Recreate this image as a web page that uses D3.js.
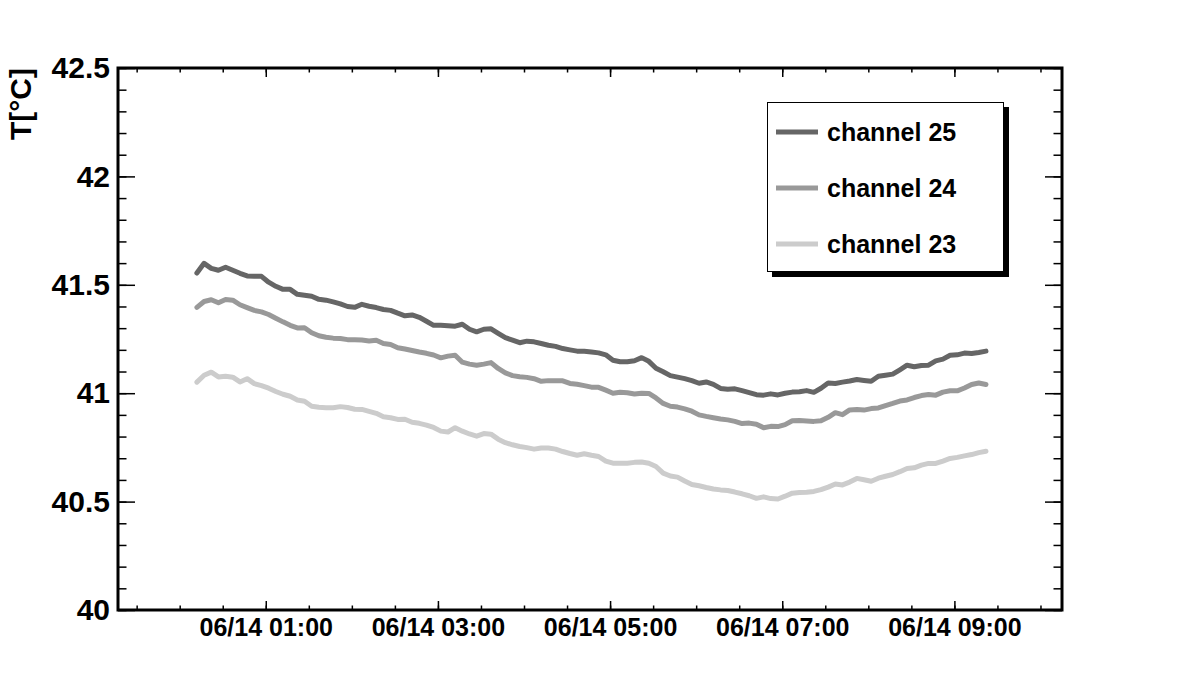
<!DOCTYPE html>
<html><head><meta charset="utf-8">
<script src="https://cdn.jsdelivr.net/npm/d3@7"></script>
<style>
body{margin:0;background:#fff}
svg{display:block}
text{font-family:"Liberation Sans",Arial,Helvetica,sans-serif;font-weight:bold;fill:#000}
</style>
</head><body>
<svg id="c" width="1182" height="680"></svg>
<script>
const seriesNames = ["channel 25", "channel 24", "channel 23"];
const seriesColors = ["#666666", "#999999", "#cccccc"];
const startTime = "2024-06-14T00:12";
const sampleMinutes = 5;
const ch25 = [
41.554,41.599,41.576,41.567,41.581,41.567,41.553,41.541,41.539,41.539,
41.512,41.493,41.479,41.479,41.456,41.452,41.447,41.433,41.429,41.421,
41.412,41.400,41.396,41.410,41.401,41.395,41.386,41.382,41.369,41.357,
41.361,41.350,41.332,41.313,41.313,41.311,41.309,41.318,41.295,41.283,
41.295,41.297,41.276,41.256,41.245,41.233,41.240,41.237,41.229,41.221,
41.216,41.206,41.200,41.194,41.193,41.190,41.186,41.177,41.152,41.145,
41.145,41.150,41.164,41.147,41.115,41.099,41.081,41.074,41.067,41.058,
41.046,41.052,41.041,41.022,41.018,41.020,41.012,41.003,40.993,40.991,
40.997,40.992,41.000,41.005,41.007,41.012,41.004,41.023,41.047,41.045,
41.051,41.056,41.063,41.059,41.055,41.078,41.083,41.088,41.108,41.129,
41.122,41.128,41.129,41.149,41.157,41.175,41.177,41.185,41.183,41.188,
41.194];
const ch24 = [
41.396,41.423,41.431,41.417,41.432,41.429,41.408,41.395,41.382,41.375,
41.363,41.346,41.329,41.313,41.301,41.302,41.279,41.265,41.258,41.254,
41.252,41.247,41.247,41.245,41.241,41.244,41.229,41.225,41.210,41.204,
41.197,41.190,41.184,41.176,41.163,41.171,41.175,41.143,41.134,41.129,
41.134,41.141,41.114,41.094,41.081,41.076,41.073,41.067,41.055,41.058,
41.057,41.057,41.045,41.041,41.035,41.028,41.027,41.014,41.000,41.004,
41.002,40.996,41.000,40.999,40.978,40.953,40.940,40.936,40.928,40.917,
40.900,40.893,40.887,40.881,40.877,40.870,40.860,40.862,40.857,40.841,
40.847,40.846,40.855,40.873,40.874,40.872,40.870,40.873,40.889,40.910,
40.901,40.923,40.925,40.922,40.929,40.932,40.943,40.953,40.964,40.969,
40.980,40.989,40.994,40.991,41.005,41.011,41.011,41.024,41.040,41.047,
41.040];
const ch23 = [
41.051,41.083,41.097,41.075,41.078,41.074,41.052,41.067,41.044,41.035,
41.023,41.008,40.995,40.986,40.969,40.963,40.940,40.935,40.933,40.933,
40.938,40.934,40.926,40.925,40.916,40.907,40.891,40.887,40.879,40.880,
40.866,40.861,40.853,40.842,40.825,40.821,40.841,40.825,40.812,40.802,
40.814,40.811,40.788,40.772,40.762,40.754,40.749,40.742,40.747,40.747,
40.742,40.731,40.722,40.714,40.721,40.714,40.708,40.687,40.677,40.677,
40.677,40.681,40.683,40.677,40.662,40.631,40.618,40.613,40.595,40.579,
40.573,40.565,40.558,40.554,40.551,40.544,40.536,40.527,40.515,40.522,
40.514,40.512,40.525,40.539,40.542,40.543,40.547,40.555,40.567,40.581,
40.577,40.590,40.607,40.601,40.594,40.608,40.617,40.625,40.638,40.653,
40.656,40.668,40.676,40.676,40.687,40.699,40.704,40.711,40.717,40.726,
40.732];
const yTicks = [40, 40.5, 41, 41.5, 42, 42.5];
const yTickLabels = ["40", "40.5", "41", "41.5", "42", "42.5"];
const xTickTimes = ["2024-06-14T01:00", "2024-06-14T03:00", "2024-06-14T05:00", "2024-06-14T07:00", "2024-06-14T09:00"];
const xDomainTimes = ["2024-06-13T23:17", "2024-06-14T10:15"];
const yDomain = [40, 42.5];
const yTitle = "T[°C]";

const parse = d3.utcParse("%Y-%m-%dT%H:%M");
const fmt = d3.utcFormat("%m/%d %H:%M");
const t0 = parse(startTime);
const series = [ch25, ch24, ch23];

const L = 118, R = 1062, T = 68, B = 610;
const svg = d3.select("#c");
const x = d3.scaleUtc().domain(xDomainTimes.map(parse)).range([L, R]);
const y = d3.scaleLinear().domain(yDomain).range([B, T]);

const majorX = xTickTimes.map(parse);
const minorX = d3.utcMinute.every(30).range(x.domain()[0], x.domain()[1]);
const minorY = d3.range(0, 26).map(i => yDomain[0] + i * 0.1);

function styleAxis(g) {
  g.select(".domain").remove();
  g.selectAll(".tick line").attr("stroke", "#000").attr("stroke-width", 1.5);
}

svg.append("g").attr("transform", `translate(0,${B})`)
  .call(d3.axisBottom(x).tickValues(minorX).tickSize(-4.5).tickFormat(""))
  .call(styleAxis);
svg.append("g").attr("transform", `translate(0,${B})`)
  .call(d3.axisBottom(x).tickValues(majorX).tickSize(-9).tickPadding(8).tickFormat(fmt))
  .call(styleAxis)
  .selectAll("text").attr("font-size", 25).attr("fill", "#000")
  .style("font-family", '"Liberation Sans",Arial,sans-serif').style("font-weight", "bold");
svg.append("g").attr("transform", `translate(0,${T})`)
  .call(d3.axisTop(x).tickValues(minorX).tickSize(-4.5).tickFormat(""))
  .call(styleAxis);
svg.append("g").attr("transform", `translate(0,${T})`)
  .call(d3.axisTop(x).tickValues(majorX).tickSize(-9).tickFormat(""))
  .call(styleAxis);

svg.append("g").attr("transform", `translate(${L},0)`)
  .call(d3.axisLeft(y).tickValues(minorY).tickSize(-8.5).tickFormat(""))
  .call(styleAxis);
svg.append("g").attr("transform", `translate(${L},0)`)
  .call(d3.axisLeft(y).tickValues(yTicks).tickSize(-17).tickPadding(8)
    .tickFormat((d, i) => yTickLabels[i]))
  .call(styleAxis)
  .selectAll("text").attr("font-size", 30).attr("fill", "#000")
  .style("font-family", '"Liberation Sans",Arial,sans-serif').style("font-weight", "bold");
svg.append("g").attr("transform", `translate(${R},0)`)
  .call(d3.axisRight(y).tickValues(minorY).tickSize(-8.5).tickFormat(""))
  .call(styleAxis);
svg.append("g").attr("transform", `translate(${R},0)`)
  .call(d3.axisRight(y).tickValues(yTicks).tickSize(-17).tickFormat(""))
  .call(styleAxis);

const line = d3.line()
  .x((d, i) => x(d3.utcMinute.offset(t0, i * sampleMinutes)))
  .y(d => y(d))
  .curve(d3.curveLinear);
series.forEach((s, k) => {
  svg.append("path").datum(s)
    .attr("d", line)
    .attr("fill", "none")
    .attr("stroke", seriesColors[k])
    .attr("stroke-width", 5)
    .attr("stroke-linejoin", "round")
    .attr("stroke-linecap", "round");
});

svg.append("rect").attr("x", L).attr("y", T).attr("width", R - L).attr("height", B - T)
  .attr("fill", "none").attr("stroke", "#000").attr("stroke-width", 3);

svg.append("text")
  .attr("transform", `translate(31,${T}) rotate(-90)`)
  .attr("text-anchor", "end")
  .attr("font-size", 30)
  .text(yTitle);

const lg = svg.append("g");
lg.append("rect").attr("x", 772).attr("y", 107).attr("width", 237).attr("height", 170).attr("fill", "#000");
lg.append("rect").attr("x", 767.5).attr("y", 102.5).attr("width", 236).attr("height", 169)
  .attr("fill", "#fff").attr("stroke", "#000").attr("stroke-width", 1);
seriesNames.forEach((n, k) => {
  const cy = 132 + k * 56;
  lg.append("line").attr("x1", 776).attr("x2", 818).attr("y1", cy).attr("y2", cy)
    .attr("stroke", seriesColors[k]).attr("stroke-width", 5);
  lg.append("text").attr("x", 827).attr("y", cy + 9).attr("font-size", 25).text(n);
});
</script>
</body></html>
